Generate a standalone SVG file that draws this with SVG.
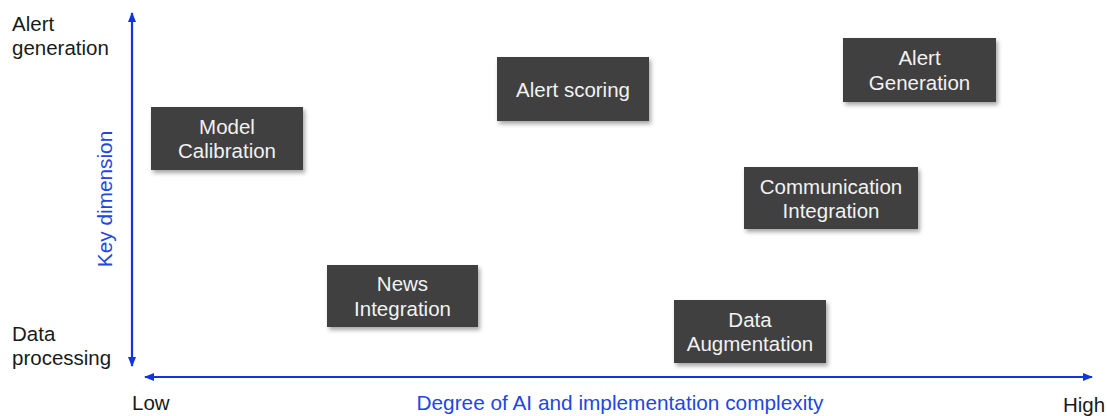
<svg xmlns="http://www.w3.org/2000/svg" width="1107" height="416" viewBox="0 0 1107 416">
<style>
.box{fill:#404040;filter:url(#sh)}
.bt{font-family:"Liberation Sans",Arial,sans-serif;font-size:20.5px;fill:#f2f2f2;text-anchor:middle}
.lab{font-family:"Liberation Sans",Arial,sans-serif;font-size:20.5px;fill:#1a1a1a}
.blue{font-family:"Liberation Sans",Arial,sans-serif;font-size:20.8px;fill:#2346e0}
.axis{stroke:#1233e0;stroke-width:2.2;fill:none}
</style>
<defs>
<filter id="sh" x="-10%" y="-10%" width="125%" height="130%">
<feDropShadow dx="2" dy="3" stdDeviation="2" flood-color="#000" flood-opacity="0.35"/>
</filter>
<marker id="ah" markerWidth="10" markerHeight="10" refX="9" refY="5" orient="auto-start-reverse" markerUnits="userSpaceOnUse">
<path d="M0,1 L10,5 L0,9 Z" fill="#1233e0"/>
</marker>
</defs>
<g id="connectors">
<line class="axis" x1="132" y1="366" x2="132" y2="13" marker-start="url(#ah)" marker-end="url(#ah)"/>
<line class="axis" x1="145" y1="377" x2="1092" y2="377" marker-start="url(#ah)" marker-end="url(#ah)"/>
</g>
<g id="axis-labels">
<text class="lab" x="12" y="31">Alert</text>
<text class="lab" x="12" y="55">generation</text>
<text class="lab" x="12" y="341">Data</text>
<text class="lab" x="12" y="365">processing</text>
<text class="lab" x="132" y="410">Low</text>
<text class="lab" x="1063" y="412">High</text>
<text class="blue" x="620" y="410" text-anchor="middle">Degree of AI and implementation complexity</text>
<text class="blue" transform="translate(112,199) rotate(-90)" text-anchor="middle">Key dimension</text>
</g>
<g id="model-calibration">
<rect class="box" x="151" y="107" width="152" height="63"/>
<text class="bt" x="227" y="133.5">Model</text>
<text class="bt" x="227" y="158">Calibration</text>
</g>
<g id="news-integration">
<rect class="box" x="327" y="265" width="151" height="62"/>
<text class="bt" x="402.5" y="291">News</text>
<text class="bt" x="402.5" y="315.5">Integration</text>
</g>
<g id="alert-scoring">
<rect class="box" x="497" y="57" width="152" height="64"/>
<text class="bt" x="573" y="96.5">Alert scoring</text>
</g>
<g id="data-augmentation">
<rect class="box" x="674" y="300" width="152" height="63"/>
<text class="bt" x="750" y="326.5">Data</text>
<text class="bt" x="750" y="351">Augmentation</text>
</g>
<g id="alert-generation">
<rect class="box" x="843" y="38" width="153" height="64"/>
<text class="bt" x="919.5" y="65">Alert</text>
<text class="bt" x="919.5" y="89.5">Generation</text>
</g>
<g id="communication-integration">
<rect class="box" x="744" y="167" width="174" height="62"/>
<text class="bt" x="831" y="193.5">Communication</text>
<text class="bt" x="831" y="218">Integration</text>
</g>
</svg>
